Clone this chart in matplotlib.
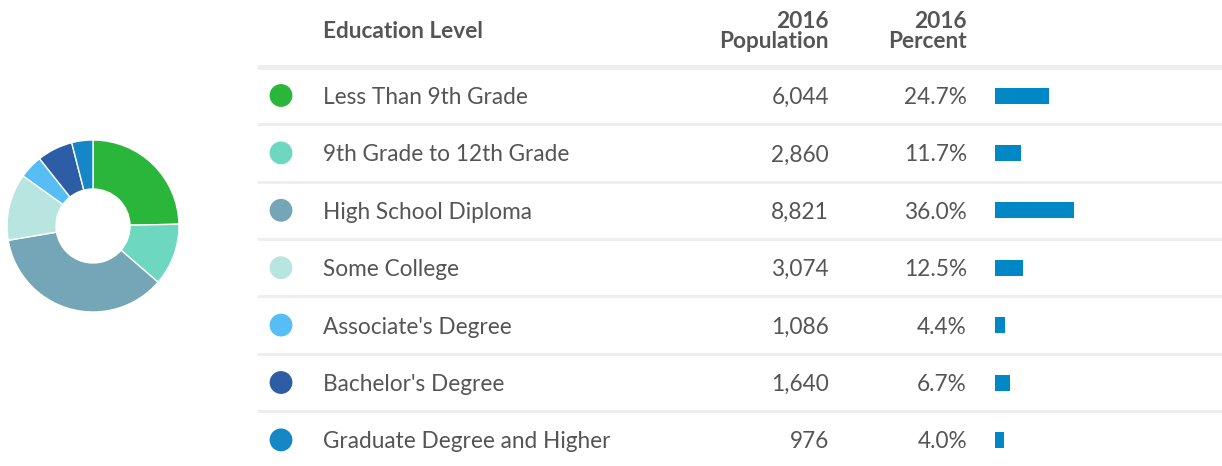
import matplotlib.pyplot as plt

plt.rcParams['font.family'] = ['Lato', 'DejaVu Sans']

# Data
levels = ['Less Than 9th Grade', '9th Grade to 12th Grade', 'High School Diploma',
          'Some College', "Associate's Degree", "Bachelor's Degree",
          'Graduate Degree and Higher']
population = [6044, 2860, 8821, 3074, 1086, 1640, 976]
percent = [24.7, 11.7, 36.0, 12.5, 4.4, 6.7, 4.0]
colors = ['#2ab63a', '#6dd8bf', '#74a6b7', '#b9e5e0', '#57bef5', '#2d5ea5', '#1587c7']

W, H = 1222, 466
fig = plt.figure(figsize=(W / 100, H / 100), dpi=100)

# Table in pixel coordinates
ax = fig.add_axes([0, 0, 1, 1])
ax.set_xlim(0, W)
ax.set_ylim(H, 0)
ax.axis('off')

text_col = '#555555'
row_y0, row_h = 95.5, 57.4
bar_x0, px_per_pct = 995, 2.2
dy = 2  # small nudge so text sits like the reference

ax.text(323, 31, 'Education Level', fontsize=16.3, fontweight='bold', color=text_col, va='center')
ax.text(829, 31.5, '2016\nPopulation', fontsize=16.3, fontweight='bold', color=text_col,
        ha='right', va='center', linespacing=0.95)
ax.text(967, 31.5, '2016\nPercent', fontsize=16.3, fontweight='bold', color=text_col,
        ha='right', va='center', linespacing=0.95)
ax.plot([257, W], [67, 67], color='#eeeeee', lw=3.5, solid_capstyle='butt')

ys = [row_y0 + i * row_h for i in range(len(levels))]
for i, (lab, pop, pct, c) in enumerate(zip(levels, population, percent, colors)):
    y = ys[i]
    ax.scatter(281, y, s=270, color=c, edgecolors='none')
    ax.text(323, y + dy, lab, fontsize=16.3, color=text_col, va='center')
    ax.text(829, y + dy, f'{pop:,}', fontsize=16.3, color=text_col, va='center', ha='right')
    ax.text(967, y + dy, f'{pct:.1f}%', fontsize=16.3, color=text_col, va='center', ha='right')
    if i < len(levels) - 1:
        ax.plot([257, W], [y + row_h / 2, y + row_h / 2], color='#eeeeee', lw=2,
                solid_capstyle='butt')

ax.barh(ys, [p * px_per_pct for p in percent], left=bar_x0, height=16, color='#0088c6')

# Donut
cx, cy, r = 93, 226, 86
pax = fig.add_axes([(cx - r) / W, (H - cy - r) / H, 2 * r / W, 2 * r / H])
pax.pie(population, colors=colors, startangle=90, counterclock=False,
        wedgeprops=dict(width=0.57, edgecolor='white', linewidth=1))
pax.set_xlim(-1, 1)
pax.set_ylim(-1, 1)
pax.set_aspect('equal')

fig.savefig('out.png', dpi=100)
